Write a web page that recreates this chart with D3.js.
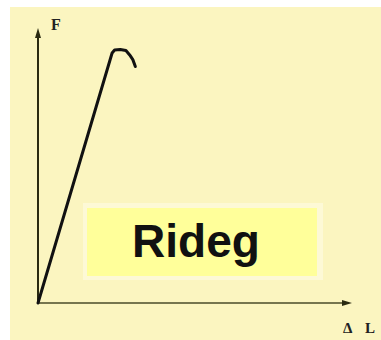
<!DOCTYPE html>
<html>
<head>
<meta charset="utf-8">
<script src="https://cdn.jsdelivr.net/npm/d3@7"></script>
<style>
  html, body { margin: 0; padding: 0; background: #ffffff; }
  svg { display: block; }
</style>
</head>
<body>
<svg id="chart" width="381" height="340"></svg>
<script>
// Force–elongation curve of a brittle ("rideg") material
const elongation = [0, 2.36, 2.44, 2.62, 2.8, 2.92, 3.02, 3.1];
const force      = [0, 9.09, 9.2, 9.22, 9.18, 9.02, 8.85, 8.6];
const axisLabels = { xSymbol: "Δ", x: "L", y: "F" };
const title = "Rideg";

const svg = d3.select("#chart");
const W = 381, H = 340;

// page background
svg.append("rect").attr("x", 10).attr("y", 7)
  .attr("width", W - 10).attr("height", H - 7).attr("fill", "#fbf5c0");

const x = d3.scaleLinear().domain([0, 10]).range([38, 352]);
const y = d3.scaleLinear().domain([0, 10]).range([303, 28]);

// label box
svg.append("rect").attr("x", 83).attr("y", 203).attr("width", 240).attr("height", 77)
  .attr("fill", "#fdf9d6");
svg.append("rect").attr("x", 87).attr("y", 208).attr("width", 230).attr("height", 68)
  .attr("fill", "#ffff9a");
svg.append("text").attr("x", 196).attr("y", 257)
  .attr("text-anchor", "middle")
  .attr("font-family", "Liberation Sans, Arial, sans-serif")
  .attr("font-weight", "bold").attr("font-size", 46)
  .attr("fill", "#111").text(title);

// axes with arrow heads
const axisColor = "#2a2a10";
svg.append("line").attr("x1", x(0)).attr("y1", y(0)).attr("x2", x(0)).attr("y2", y(10) + 6)
  .attr("stroke", axisColor).attr("stroke-width", 2);
svg.append("path")
  .attr("d", `M${x(0)},${y(10)} L${x(0) - 3},${y(10) + 10} L${x(0) + 3},${y(10) + 10} Z`)
  .attr("fill", axisColor);
svg.append("line").attr("x1", x(0)).attr("y1", y(0)).attr("x2", x(10) - 6).attr("y2", y(0))
  .attr("stroke", "#4a4a28").attr("stroke-width", 1.6);
svg.append("path")
  .attr("d", `M${x(10)},${y(0)} L${x(10) - 10},${y(0) - 3} L${x(10) - 10},${y(0) + 3} Z`)
  .attr("fill", axisColor);

// axis labels
const serif = "Liberation Serif, Times New Roman, serif";
svg.append("text").attr("x", 51).attr("y", 30)
  .attr("font-family", serif)
  .attr("font-weight", "bold").attr("font-size", 16).attr("fill", "#222")
  .text(axisLabels.y);
svg.append("text").attr("x", 343).attr("y", 333)
  .attr("font-family", serif)
  .attr("font-weight", "bold").attr("font-size", 15).attr("fill", "#222")
  .text(axisLabels.xSymbol);
svg.append("text").attr("x", 365).attr("y", 333)
  .attr("font-family", serif)
  .attr("font-weight", "bold").attr("font-size", 15).attr("fill", "#222")
  .text(axisLabels.x);

// the curve
const pts = elongation.map((v, i) => [v, force[i]]);
const line = d3.line().x(d => x(d[0])).y(d => y(d[1])).curve(d3.curveLinear);
svg.append("path").datum(pts).attr("d", line)
  .attr("fill", "none").attr("stroke", "#111").attr("stroke-width", 3)
  .attr("stroke-linejoin", "round").attr("stroke-linecap", "round");
</script>
</body>
</html>
